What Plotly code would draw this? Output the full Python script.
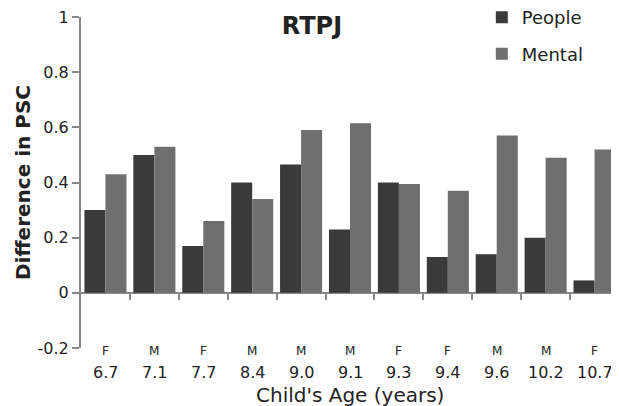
import plotly.graph_objects as go

ages = ["6.7", "7.1", "7.7", "8.4", "9.0", "9.1", "9.3", "9.4", "9.6", "10.2", "10.7"]
sexes = ["F", "M", "F", "M", "M", "M", "F", "F", "M", "M", "F"]
people = [0.30, 0.50, 0.17, 0.40, 0.465, 0.23, 0.40, 0.13, 0.14, 0.20, 0.045]
mental = [0.43, 0.53, 0.26, 0.34, 0.59, 0.615, 0.395, 0.37, 0.57, 0.49, 0.52]
yticks = [-0.2, 0, 0.2, 0.4, 0.6, 0.8, 1]
ytick_text = ["-0.2", "0", "0.2", "0.4", "0.6", "0.8", "1"]

idx = list(range(len(ages)))
FONT = "DejaVu Sans"
TXT = "#222"

fig = go.Figure()
fig.add_trace(go.Bar(x=idx, y=people, name="People", marker_color="#3a3a3a",
                     marker_line_width=0, legendgroup="a"))
fig.add_trace(go.Bar(x=idx, y=mental, name="Mental", marker_color="#6f6f6f",
                     marker_line_width=0, legendgroup="b"))
fig.add_trace(go.Scatter(x=[None], y=[None], xaxis="x2", showlegend=False))

annotations = []
for i, (s, a) in enumerate(zip(sexes, ages)):
    annotations.append(dict(x=i, y=0, xref="x", yref="paper", text=s, showarrow=False,
                            yanchor="middle", yshift=-3, font=dict(size=12, family=FONT, color=TXT)))
    annotations.append(dict(x=i, y=0, xref="x", yref="paper", text=a, showarrow=False,
                            yanchor="middle", yshift=-24, font=dict(size=16, family=FONT, color=TXT)))
annotations.append(dict(x=0.5, y=0, xref="paper", yref="paper", text="Child's Age (years)",
                        showarrow=False, yanchor="middle", yshift=-47,
                        font=dict(size=20, family=FONT, color=TXT)))

# page body has an 8px margin, so the figure is sized to fit the 619x406 window
fig.update_layout(
    width=611, height=398,
    margin=dict(l=73, r=0, t=9, b=58, autoexpand=False),
    plot_bgcolor="white", paper_bgcolor="white",
    barmode="group", bargap=0.14, bargroupgap=0,
    font=dict(family=FONT, color=TXT, size=14),
    title=dict(text="<b>RTPJ</b>", x=0.4975, xanchor="center", y=0.955, yanchor="middle",
               font=dict(size=24, family=FONT, color=TXT)),
    legend=dict(x=0.745, y=1.054, xanchor="left", yanchor="top", tracegroupgap=10,
                font=dict(size=18, family=FONT, color=TXT), bgcolor="rgba(0,0,0,0)"),
    annotations=annotations,
    xaxis=dict(range=[-0.5, 10.5], showticklabels=False, showline=False, automargin=False,
               ticks="", showgrid=False, zeroline=False),
    xaxis2=dict(range=[-0.5, 10.5], overlaying="x", anchor="free", position=0.2 / 1.2,
                side="bottom", tickvals=[i + 0.5 for i in idx[:-1]], ticks="outside",
                ticklen=6, tickcolor="#888", tickwidth=1.5, showticklabels=False, showline=False,
                showgrid=False, zeroline=False, automargin=False),
    yaxis=dict(range=[-0.2, 1], tickvals=yticks, ticktext=ytick_text, showgrid=False,
               showline=True, linecolor="#888", linewidth=2, ticks="outside", ticklen=7,
               tickcolor="#888", tickwidth=1.5, zeroline=True, zerolinecolor="#888",
               zerolinewidth=2, automargin=False, ticklabeloverflow="allow",
               tickfont=dict(size=16, family=FONT, color=TXT),
               title=dict(text="<b>Difference in PSC</b>", standoff=2,
                          font=dict(size=20, family=FONT, color=TXT))),
)

fig.write_html("out.html")
